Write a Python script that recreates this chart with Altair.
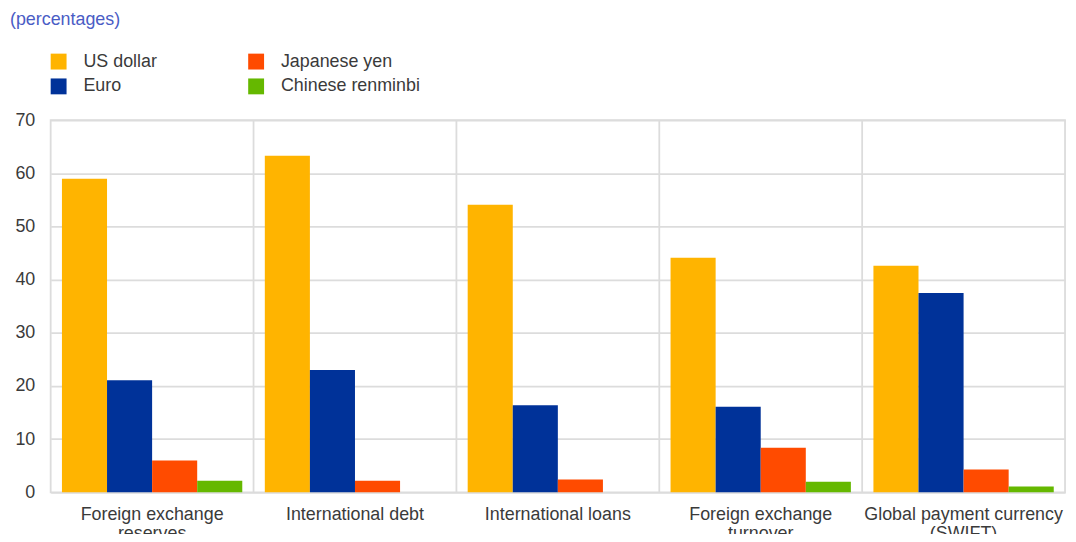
import altair as alt
import pandas as pd

categories = [
    "Foreign exchange|reserves",
    "International debt",
    "International loans",
    "Foreign exchange|turnover",
    "Global payment currency|(SWIFT)",
]
currencies = ["US dollar", "Euro", "Japanese yen", "Chinese renminbi"]
us_dollar = [59.0, 63.3, 54.1, 44.1, 42.6]
euro = [21.1, 23.0, 16.4, 16.1, 37.5]
japanese_yen = [6.0, 2.2, 2.4, 8.4, 4.3]
chinese_renminbi = [2.2, None, None, 2.0, 1.1]
colors = ["#FFB400", "#003299", "#FF4B00", "#65B800"]

rows = []
for cur, vals in zip(currencies, [us_dollar, euro, japanese_yen, chinese_renminbi]):
    for cat, v in zip(categories, vals):
        if v is not None:
            rows.append({"category": cat, "currency": cur, "value": v})
df = pd.DataFrame(rows)
sep_df = pd.DataFrame({"category": categories[1:]})

FONT = "Liberation Sans"
TXT = "#3a3a3a"
FS = 18

x_axis = alt.Axis(labelExpr="split(datum.label, '|')", labelAngle=0,
                  bandPosition=0.5, labelAlign="center", labelLimit=400,
                  ticks=False, domain=False, grid=False,
                  labelFont=FONT, labelFontSize=FS, labelColor=TXT,
                  labelPadding=13, labelLineHeight=20, labelBaseline="top")
x_scale = alt.Scale(paddingInner=0, paddingOuter=0)

bars = alt.Chart(df).mark_bar().encode(
    x=alt.X("category:N", sort=categories, title=None, scale=x_scale, axis=x_axis),
    xOffset=alt.XOffset("currency:N", sort=currencies,
                        scale=alt.Scale(paddingOuter=0.25, paddingInner=0)),
    y=alt.Y("value:Q", title=None,
            scale=alt.Scale(domain=[0, 70]),
            axis=alt.Axis(values=[0, 10, 20, 30, 40, 50, 60, 70], ticks=False, domain=False,
                          gridColor="#dcdcdc", gridWidth=1.8,
                          labelFont=FONT, labelFontSize=FS, labelColor=TXT, labelPadding=16)),
    color=alt.Color("currency:N",
                    scale=alt.Scale(domain=currencies, range=colors),
                    legend=alt.Legend(title=None, orient="none", legendX=-1, legendY=-68,
                                      columns=2, columnPadding=90, rowPadding=7,
                                      symbolType="square", symbolSize=256, symbolStrokeWidth=0,
                                      symbolOpacity=1,
                                      labelFont=FONT, labelFontSize=FS, labelColor=TXT,
                                      labelOffset=16)),
)

seps = alt.Chart(sep_df).mark_rule(color="#dcdcdc", strokeWidth=1.8).encode(
    x=alt.X("category:N", sort=categories, title=None, bandPosition=0,
            scale=x_scale, axis=x_axis),
)

chart = alt.layer(seps, bars).properties(
    width=1022, height=375,
    autosize=alt.AutoSizeParams(type="none"),
    padding={"left": 43, "top": 111, "right": 3, "bottom": 40},
    title=alt.TitleParams("(percentages)", anchor="start", frame="group",
                          font=FONT, fontSize=FS, fontWeight="normal",
                          color="#4a5cc5", dx=-41, dy=-20),
).configure_view(stroke="#dcdcdc", strokeWidth=1.8)

chart.save("out.html", embed_options={"renderer": "svg", "actions": False})
